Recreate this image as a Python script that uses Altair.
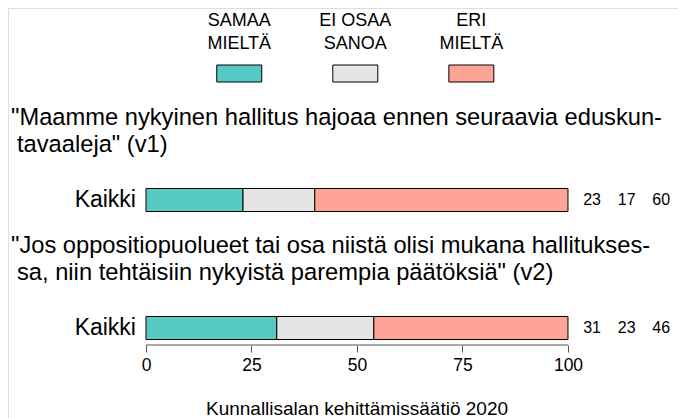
import altair as alt
import pandas as pd

# ---- data ----
categories = ["SAMAA MIELTÄ", "EI OSAA SANOA", "ERI MIELTÄ"]
legend_line1 = ["SAMAA", "EI OSAA", "ERI"]
legend_line2 = ["MIELTÄ", "SANOA", "MIELTÄ"]
colors = ["#57C9C4", "#E5E5E5", "#FFA396"]

question_lines = [
    ['"Maamme nykyinen hallitus hajoaa ennen seuraavia eduskun-',
     'tavaaleja" (v1)'],
    ['"Jos oppositiopuolueet tai osa niistä olisi mukana hallitukses-',
     'sa, niin tehtäisiin nykyistä parempia päätöksiä" (v2)'],
]
group_label = "Kaikki"
values_q1 = [23, 17, 60]
values_q2 = [31, 23, 46]
tick_values = [0, 25, 50, 75, 100]
caption = "Kunnallisalan kehittämissäätiö 2020"

FONT = "Liberation Sans"

# ---- tables built from the arrays ----
rows = []
for qi, vals in enumerate([values_q1, values_q2], start=1):
    start = 0
    for k, (cat, v) in enumerate(zip(categories, vals)):
        rows.append(dict(q=qi, cat=cat, k=k, value=v, start=start, end=start + v))
        start += v
bars_df = pd.DataFrame(rows)

title_rows = []
for qi, lines in enumerate(question_lines, start=1):
    for li, line in enumerate(lines):
        title_rows.append(dict(q=qi, line=li, text=line))
titles_df = pd.DataFrame(title_rows)

groups_df = pd.DataFrame(dict(q=[1, 2], label=[group_label, group_label]))
legend_df = pd.DataFrame(dict(cat=categories, k=[0, 1, 2], l1=legend_line1, l2=legend_line2))
ticks_df = pd.DataFrame(dict(t=tick_values))
caption_df = pd.DataFrame(dict(text=[caption]))

# ---- scales ----
xscale = alt.Scale(domain=[-32.70, 126.07], nice=False, zero=False)
yscale = alt.Scale(domain=[-0.5, 2.703125], nice=False, zero=False, reverse=True)
cscale = alt.Scale(domain=categories, range=colors)

X_AXIS_Y = 337  # chart px

bars = alt.Chart(bars_df).transform_calculate(
    y0="datum.q - 0.09", y1="datum.q + 0.09"
).mark_rect(stroke="black", strokeWidth=1).encode(
    x=alt.X("start:Q", scale=xscale,
            axis=alt.Axis(values=tick_values, domain=False, grid=False, title=None,
                          offset=X_AXIS_Y - 410, tickSize=7, tickColor="#555555",
                          labelFont=FONT, labelFontSize=17.5, labelColor="black",
                          labelPadding=4)),
    x2="end:Q",
    y=alt.Y("y0:Q", scale=yscale, axis=None),
    y2="y1:Q",
    color=alt.Color("cat:N", scale=cscale, legend=None),
)

axis_line = alt.Chart(ticks_df).transform_aggregate(
    lo="min(t)", hi="max(t)"
).mark_rule(color="#555555", strokeWidth=1).encode(
    x=alt.X("lo:Q", scale=xscale), x2="hi:Q", y=alt.value(X_AXIS_Y)
)

value_text = alt.Chart(bars_df).transform_calculate(
    xv="105.7 + 8.2 * datum.k"
).mark_text(font=FONT, fontSize=16, align="center", baseline="middle", color="black").encode(
    x=alt.X("xv:Q", scale=xscale), y=alt.Y("q:Q", scale=yscale), text="value:Q"
)

group_text = alt.Chart(groups_df).mark_text(
    font=FONT, fontSize=23, align="right", baseline="middle", dx=-10, color="black"
).encode(x=alt.datum(0, scale=xscale), y=alt.Y("q:Q", scale=yscale), text="label:N")

title_base = alt.Chart(titles_df).transform_calculate(
    ty="datum.q - 0.64 + 0.211 * datum.line"
)
title_first = title_base.transform_filter("datum.line == 0").mark_text(
    font=FONT, fontSize=23.7, align="left", baseline="middle", color="black"
).encode(x=alt.value(3), y=alt.Y("ty:Q", scale=yscale), text="text:N")
title_second = title_base.transform_filter("datum.line == 1").mark_text(
    font=FONT, fontSize=23.7, align="left", baseline="middle", color="black"
).encode(x=alt.value(9), y=alt.Y("ty:Q", scale=yscale), text="text:N")

legend_base = alt.Chart(legend_df).transform_calculate(
    lx="22.1 + 27.5 * datum.k", lx0="22.1 + 27.5 * datum.k - 5.33", lx1="22.1 + 27.5 * datum.k + 5.33"
)
legend_boxes = legend_base.mark_rect(stroke="black", strokeWidth=1).encode(
    x=alt.X("lx0:Q", scale=xscale), x2="lx1:Q",
    y=alt.value(57), y2=alt.value(74),
    color=alt.Color("cat:N", scale=cscale, legend=None),
)
legend_l1 = legend_base.mark_text(font=FONT, fontSize=18, align="center", baseline="middle", color="black").encode(
    x=alt.X("lx:Q", scale=xscale), y=alt.value(13), text="l1:N"
)
legend_l2 = legend_base.mark_text(font=FONT, fontSize=18, align="center", baseline="middle", color="black").encode(
    x=alt.X("lx:Q", scale=xscale), y=alt.value(36), text="l2:N"
)

caption_text = alt.Chart(caption_df).mark_text(
    font=FONT, fontSize=19, align="center", baseline="middle", color="black"
).encode(x=alt.value(349), y=alt.value(401), text="text:N")

chart = alt.layer(
    bars, axis_line, value_text, group_text, title_first, title_second,
    legend_boxes, legend_l1, legend_l2, caption_text
).properties(
    width=670, height=410, padding=0, autosize=alt.AutoSizeParams(type="none")
).configure_view(stroke=None).configure(background="white")

chart.save("out.html", embed_options={"renderer": "svg", "actions": False})
